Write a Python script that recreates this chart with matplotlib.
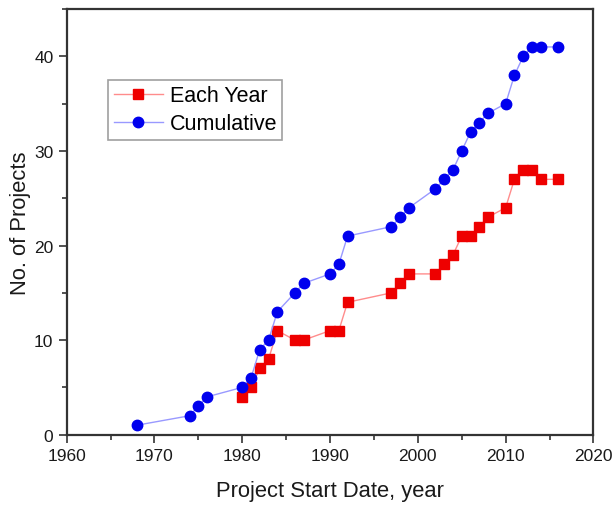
import matplotlib.pyplot as plt
from matplotlib.ticker import MultipleLocator

plt.rcParams['font.family'] = ['Liberation Sans', 'DejaVu Sans']

# project counts by start year
years_each = [1980, 1981, 1982, 1983, 1984, 1986, 1987, 1990, 1991, 1992,
              1997, 1998, 1999, 2002, 2003, 2004, 2005, 2006, 2007, 2008,
              2010, 2011, 2012, 2013, 2014, 2016]
each_year = [4, 5, 7, 8, 11, 10, 10, 11, 11, 14,
             15, 16, 17, 17, 18, 19, 21, 21, 22, 23,
             24, 27, 28, 28, 27, 27]

years_cum = [1968, 1974, 1975, 1976, 1980, 1981, 1982, 1983, 1984, 1986,
             1987, 1990, 1991, 1992, 1997, 1998, 1999, 2002, 2003, 2004,
             2005, 2006, 2007, 2008, 2010, 2011, 2012, 2013, 2014, 2016]
cumulative = [1, 2, 3, 4, 5, 6, 9, 10, 13, 15,
              16, 17, 18, 21, 22, 23, 24, 26, 27, 28,
              30, 32, 33, 34, 35, 38, 40, 41, 41, 41]

fig = plt.figure(figsize=(6.14, 5.06), dpi=100)
ax = fig.add_axes([0.1085, 0.139, 0.858, 0.841])

ax.plot(years_each, each_year, '-s', color=(1, 0.55, 0.55), lw=1,
        mfc='#ee0000', mec='#ee0000', ms=6.5, label='Each Year')
ax.plot(years_cum, cumulative, '-o', color=(0.6, 0.6, 1), lw=1,
        mfc='#0000ee', mec='#0000ee', ms=7.5, label='Cumulative')

ax.set_xlim(1960, 2020)
ax.set_ylim(0, 45)
ax.xaxis.set_major_locator(MultipleLocator(10))
ax.xaxis.set_minor_locator(MultipleLocator(5))
ax.yaxis.set_major_locator(MultipleLocator(10))
ax.yaxis.set_minor_locator(MultipleLocator(5))
ax.tick_params(which='major', direction='out', length=6, width=1.2,
               colors='#333333', labelsize=12.5, labelcolor='#1a1a1a')
ax.tick_params(which='minor', direction='out', length=3.5, width=1.2,
               colors='#333333')
for s in ax.spines.values():
    s.set_linewidth(1.6)
    s.set_color('#333333')

ax.set_xlabel('Project Start Date, year', fontsize=15.8, color='#1a1a1a', labelpad=12)
ax.set_ylabel('No. of Projects', fontsize=15.8, color='#1a1a1a', labelpad=2)

leg = ax.legend(loc='upper left', bbox_to_anchor=(0.0586, 0.8585), fontsize=15.5,
                frameon=True, fancybox=False, handlelength=2.3,
                handletextpad=0.3, borderpad=0.25, labelspacing=0.32)
leg.get_frame().set_edgecolor('#888888')
leg.get_frame().set_linewidth(1.2)

fig.savefig('out.png', dpi=100)
